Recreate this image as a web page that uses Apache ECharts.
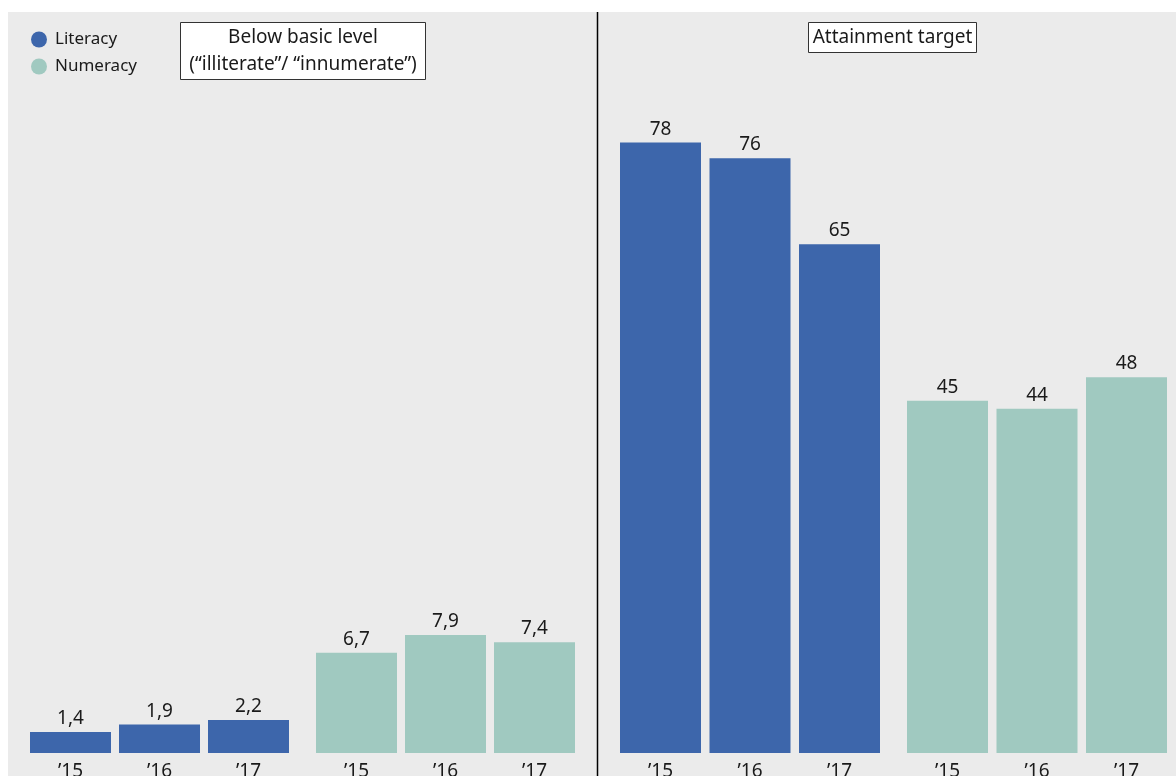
<!DOCTYPE html>
<html>
<head>
<meta charset="utf-8">
<script src="https://cdn.jsdelivr.net/npm/echarts@6/dist/echarts.min.js"></script>
<style>
html,body{margin:0;padding:0;background:#fff;}
#chart{width:1176px;height:776px;}
</style>
</head>
<body>
<div id="chart"></div>
<script>
const years = ['’15', '’16', '’17'];
const literacyBelow = [1.4, 1.9, 2.2];
const numeracyBelow = [6.7, 7.9, 7.4];
const literacyTarget = [78, 76, 65];
const numeracyTarget = [45, 44, 48];
const panelTitles = ['Below basic level\n(“illiterate”/ “innumerate”)', 'Attainment target'];

const LIT = '#3d66ab', NUM = '#a0c9c0';
const FONT = 'Noto Sans';
const fmt = p => String(p.value).replace('.', ',');

const grids = [
  {left: 26, width: 267, top: 155, bottom: 23},
  {left: 312, width: 267, top: 155, bottom: 23},
  {left: 615.75, width: 268.5, top: 80, bottom: 23},
  {left: 902.75, width: 268.5, top: 80, bottom: 23}
].map(g => Object.assign(g, {containLabel: false, outerBoundsMode: 'none'}));
const maxes = [40, 40, 86, 86];
const seriesData = [literacyBelow, numeracyBelow, literacyTarget, numeracyTarget];
const names = ['Literacy', 'Numeracy', 'Literacy', 'Numeracy'];
const colors = [LIT, NUM, LIT, NUM];

const chart = echarts.init(document.getElementById('chart'));
chart.setOption({
  animation: false,
  textStyle: {fontFamily: FONT},
  grid: grids,
  xAxis: grids.map((g, i) => ({
    type: 'category', gridIndex: i, data: years,
    axisLine: {show: false}, axisTick: {show: false},
    axisLabel: {color: '#1a1a1a', fontSize: 19, fontFamily: FONT, margin: 9}
  })),
  yAxis: grids.map((g, i) => ({
    type: 'value', gridIndex: i, min: 0, max: maxes[i],
    show: false, splitLine: {show: false}
  })),
  legend: {
    orient: 'vertical', left: 26, top: 26, itemGap: 10,
    itemWidth: 16, itemHeight: 16, icon: 'circle',
    data: [{name: 'Literacy'}, {name: 'Numeracy'}],
    textStyle: {fontSize: 17, color: '#1a1a1a', fontFamily: FONT, padding: [0, 0, 0, 3]}
  },
  series: seriesData.map((d, i) => ({
    type: 'bar', name: names[i], xAxisIndex: i, yAxisIndex: i,
    data: d, barWidth: 81, itemStyle: {color: colors[i]},
    label: {show: true, position: 'top', distance: 4, formatter: fmt,
            fontSize: 19, color: '#1a1a1a', fontFamily: FONT}
  })),
  graphic: [
    {type: 'rect', z: -10, silent: true, shape: {x: 8, y: 12, width: 1168, height: 764}, style: {fill: '#ebebeb'}},
    {type: 'line', z: 10, shape: {x1: 597.5, y1: 12, x2: 597.5, y2: 776}, style: {stroke: '#000', lineWidth: 1.5}},
    {type: 'rect', z: 10, shape: {x: 180.5, y: 22.5, width: 245, height: 57}, style: {fill: '#fff', stroke: '#333', lineWidth: 1}},
    {type: 'text', z: 11, x: 303, y: 51.5, style: {text: panelTitles[0], align: 'center', verticalAlign: 'middle', fontSize: 19, lineHeight: 27, fill: '#1a1a1a', fontFamily: FONT}},
    {type: 'rect', z: 10, shape: {x: 808.5, y: 22.5, width: 168, height: 30}, style: {fill: '#fff', stroke: '#333', lineWidth: 1}},
    {type: 'text', z: 11, x: 892.5, y: 38, style: {text: panelTitles[1], align: 'center', verticalAlign: 'middle', fontSize: 19, fill: '#1a1a1a', fontFamily: FONT}}
  ]
});
</script>
</body>
</html>
